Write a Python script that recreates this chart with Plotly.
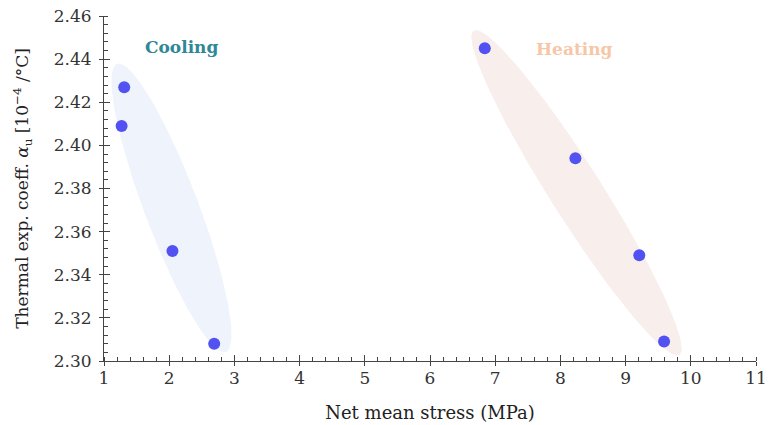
import numpy as np
import plotly.graph_objects as go

# ---- data ----
cool_x = [1.31, 1.27, 2.05, 2.69]
cool_y = [2.427, 2.409, 2.351, 2.308]
heat_x = [6.84, 8.23, 9.21, 9.59]
heat_y = [2.445, 2.394, 2.349, 2.309]

x_ticks = list(range(1, 12))
y_ticks = [2.30, 2.32, 2.34, 2.36, 2.38, 2.40, 2.42, 2.44, 2.46]

# ---- layout constants ----
W, H = 778, 425
ML, MR, MT, MB = 103.5, 22.3, 16, 64
XR = [1, 11]
YR = [2.30, 2.46]
PXX = (W - ML - MR) / (XR[1] - XR[0])
PXY = (H - MT - MB) / (YR[1] - YR[0])

FONT = "DejaVu Serif"


def ellipse(cx, cy, a_px, b_px, ang_deg, n=200):
    t = np.linspace(0, 2 * np.pi, n)
    th = np.radians(ang_deg)
    dpx = a_px * np.cos(th) * np.cos(t) - b_px * np.sin(th) * np.sin(t)
    dpy = a_px * np.sin(th) * np.cos(t) + b_px * np.cos(th) * np.sin(t)
    return cx + dpx / PXX, cy - dpy / PXY


fig = go.Figure()

ex, ey = ellipse(2.035, 2.371, 154, 27, 69.3)
fig.add_trace(go.Scatter(x=ex, y=ey, fill="toself", fillcolor="#eff3fb",
                         line=dict(width=0), mode="lines", hoverinfo="skip"))
ex, ey = ellipse(8.247, 2.378, 192, 26, 57.6)
fig.add_trace(go.Scatter(x=ex, y=ey, fill="toself", fillcolor="#f8eeec",
                         line=dict(width=0), mode="lines", hoverinfo="skip"))

for xs, ys in [(cool_x, cool_y), (heat_x, heat_y)]:
    fig.add_trace(go.Scatter(x=xs, y=ys, mode="markers",
                             marker=dict(size=12, color="#5252f2")))

fig.add_annotation(x=2.19, y=2.4456, text="<b>Cooling</b>", showarrow=False,
                   font=dict(family=FONT, size=17, color="#2f8797"))
fig.add_annotation(x=8.22, y=2.4445, text="<b>Heating</b>", showarrow=False,
                   font=dict(family=FONT, size=17, color="#f6c7a6"))

axcol = "#444"
common = dict(showgrid=False, zeroline=False, showline=True, linecolor=axcol,
              linewidth=1, tickcolor=axcol, mirror=False, automargin=False,
              tickfont=dict(family=FONT, size=17, color="#333"))

fig.update_xaxes(range=XR, tickvals=x_ticks, ticktext=[str(v) for v in x_ticks],
                 ticks="outside", ticklen=4, ticklabelstandoff=-2,
                 minor=dict(ticks="inside", ticklen=4, dtick=0.2, tickcolor=axcol),
                 title=dict(text="Net mean stress (MPa)", standoff=18,
                            font=dict(family=FONT, size=18, color="#222")),
                 **common)
fig.update_yaxes(range=YR, tickvals=y_ticks, ticktext=[f"{v:.2f}" for v in y_ticks],
                 ticks="outside", ticklen=4, ticklabelstandoff=4,
                 minor=dict(ticks="inside", ticklen=4, dtick=0.004, tickcolor=axcol),
                 title=dict(text="Thermal exp. coeff. <i>α</i><sub>u</sub> [10<sup>−4</sup> /°C]",
                            standoff=20,
                            font=dict(family=FONT, size=17, color="#222")),
                 **common)

# overlay axes for the inner part of major ticks
fig.update_layout(
    xaxis2=dict(overlaying="x", range=XR, tickvals=x_ticks, ticks="inside", ticklen=6,
                tickcolor=axcol, showticklabels=False, showgrid=False, zeroline=False,
                showline=False),
    yaxis2=dict(overlaying="y", range=YR, tickvals=y_ticks, ticks="inside", ticklen=6,
                tickcolor=axcol, showticklabels=False, showgrid=False, zeroline=False,
                showline=False),
)
fig.add_trace(go.Scatter(x=[None], y=[None], xaxis="x2", yaxis="y2", showlegend=False))

fig.update_layout(width=W, height=H, showlegend=False,
                  margin=dict(l=ML, r=MR, t=MT, b=MB),
                  plot_bgcolor="white", paper_bgcolor="white")

fig.write_html("out.html")
